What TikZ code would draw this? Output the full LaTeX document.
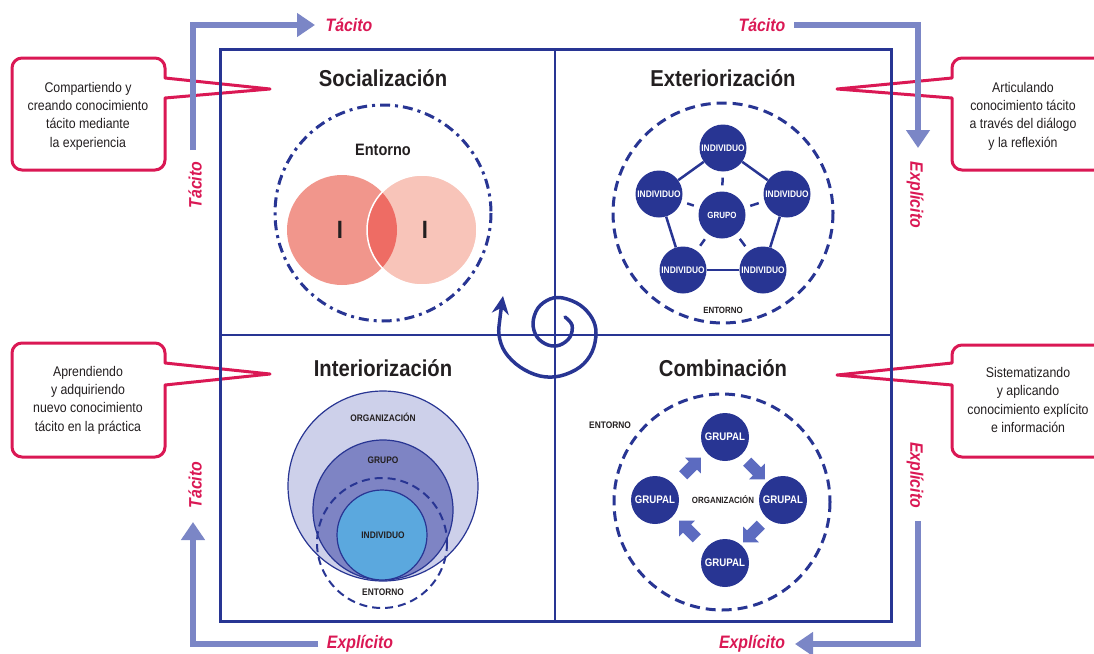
\documentclass[tikz,border=0pt]{standalone}
\usepackage{fontspec}
\setmainfont{Liberation Sans}[FakeStretch=0.88]
\usetikzlibrary{arrows.meta,shapes.arrows,calc}
\definecolor{dblue}{RGB}{40,53,147}
\definecolor{lblue}{RGB}{123,134,198}
\definecolor{cred}{RGB}{218,24,84}
\definecolor{sleft}{RGB}{241,150,140}
\definecolor{sright}{RGB}{248,196,185}
\definecolor{sover}{RGB}{238,108,100}
\definecolor{iorg}{RGB}{205,208,234}
\definecolor{igrp}{RGB}{126,132,196}
\definecolor{iind}{RGB}{91,168,222}
\definecolor{barrow}{RGB}{92,107,192}
\definecolor{ink}{RGB}{35,31,32}
\begin{document}
\begin{tikzpicture}[x=1pt,y=-1pt,
  callout/.style={draw=cred, line width=3pt, fill=white, line join=round},
  ctext/.style={align=center, text=ink, font=\fontsize{14}{18.3}\selectfont},
  flow/.style={draw=lblue, line width=6.5pt, -{Triangle[length=18pt,width=23pt]}},
  lab/.style={text=cred, font=\fontsize{18}{20}\selectfont\bfseries\itshape, inner sep=0pt},
  ttl/.style={text=ink, font=\fontsize{23}{26}\selectfont\bfseries},
  small/.style={text=ink, font=\fontsize{9.5}{11}\selectfont\bfseries, inner sep=0pt},
  ind/.style={circle, fill=dblue, minimum size=47pt, inner sep=0pt, text=white, font=\fontsize{9.5}{10}\selectfont\bfseries},
  grp/.style={circle, fill=dblue, minimum size=48pt, inner sep=0pt, text=white, font=\fontsize{11}{12}\selectfont\bfseries},
  barr/.style={single arrow, fill=barrow, draw=none, minimum height=25pt, inner sep=5.5pt, single arrow head extend=5.5pt, single arrow head indent=0pt},
  frame/.style={draw=dblue, line width=3pt},
  envdash/.style={draw=dblue, line width=3pt, dash pattern=on 10pt off 6pt}
]
\path[use as bounding box, clip] (0,0) rectangle (1094,653);

% ---------- callouts ----------
\draw[callout] (22,58) -- (155,58) .. controls (160.5,58) and (165,62.5) .. (165,68) -- (165,78) -- (270,89) -- (165,98) -- (165,160) .. controls (165,165.5) and (160.5,170) .. (155,170) -- (22,170) .. controls (16.5,170) and (12,165.5) .. (12,160) -- (12,68) .. controls (12,62.5) and (16.5,58) .. (22,58) -- cycle;
\draw[callout] (22,343) -- (155,343) .. controls (160.5,343) and (165,347.5) .. (165,353) -- (165,363) -- (270,374) -- (165,385) -- (165,447) .. controls (165,452.5) and (160.5,457) .. (155,457) -- (22,457) .. controls (16.5,457) and (12,452.5) .. (12,447) -- (12,353) .. controls (12,347.5) and (16.5,343) .. (22,343) -- cycle;
\draw[callout] (962,58) -- (1110,58) -- (1110,170) -- (962,170) .. controls (956.5,170) and (952,165.5) .. (952,160) -- (952,98) -- (837,89) -- (952,78) -- (952,68) .. controls (952,62.5) and (956.5,58) .. (962,58) -- cycle;
\draw[callout] (962,345) -- (1110,345) -- (1110,457) -- (962,457) .. controls (956.5,457) and (952,452.5) .. (952,447) -- (952,385) -- (837,375) -- (952,363) -- (952,355) .. controls (952,349.5) and (956.5,345) .. (962,345) -- cycle;

\node[ctext] (c1) at (88,116) {Compartiendo y\\creando conocimiento\\tácito mediante\\la experiencia};
\node[ctext] (c2) at (1023,116) {Articulando\\conocimiento tácito\\a través del diálogo\\y la reflexión};
\node[ctext] (c3) at (88,400) {Aprendiendo\\y adquiriendo\\nuevo conocimiento\\tácito en la práctica};
\node[ctext] (c4) at (1028,400) {Sistematizando\\y aplicando\\conocimiento explícito\\e información};

% ---------- flow arrows ----------
\coordinate (f1a) at (193,150); \coordinate (f1b) at (193,25); \coordinate (f1c) at (315,25);
\coordinate (f2a) at (794,25); \coordinate (f2b) at (918,25); \coordinate (f2c) at (918,148);
\coordinate (f3a) at (918,521); \coordinate (f3b) at (918,644); \coordinate (f3c) at (795,644);
\coordinate (f4a) at (318,644); \coordinate (f4b) at (193,644); \coordinate (f4c) at (193,522);
\draw[flow] (f1a) -- (f1b) -- (f1c);
\draw[flow] (f2a) -- (f2b) -- (f2c);
\draw[flow] (f3a) -- (f3b) -- (f3c);
\draw[flow] (f4a) -- (f4b) -- (f4c);

\node[lab, anchor=base] (t1) at (349,31.5) {Tácito};
\node[lab, anchor=base] (t2) at (762,31.5) {Tácito};
\node[lab, rotate=90] (t3) at (195,185) {Tácito};
\node[lab, rotate=90] (t4) at (195,485) {Tácito};
\node[lab, rotate=-90] (e1) at (915,195) {Explícito};
\node[lab, rotate=-90] (e2) at (915,475) {Explícito};
\node[lab, anchor=base] (e3) at (360,648.5) {Explícito};
\node[lab, anchor=base] (e4) at (752,648.5) {Explícito};

% ---------- frame ----------
\draw[frame] (220,49) rectangle (891,621);
\draw[draw=dblue, line width=2.5pt] (555,49) -- (555,621);
\draw[draw=dblue, line width=2.5pt] (220,335) -- (891,335);

% ---------- titles ----------
\node[ttl] (q1) at (383,78) {Socialización};
\node[ttl] (q2) at (723,78) {Exteriorización};
\node[ttl] (q3) at (383,368) {Interiorización};
\node[ttl] (q4) at (723,368) {Combinación};

% ---------- socialization ----------
\fill[sleft] (342,230) circle[radius=55];
\fill[sright] (422,230) circle[radius=55];
\begin{scope}
  \clip (342,230) circle[radius=55];
  \fill[sover] (422,230) circle[radius=55];
\end{scope}
\draw[white, line width=1.5pt] (422,230) circle[radius=55];
\draw[dblue, line width=3pt, dash pattern=on 10pt off 5pt on 3pt off 5pt] (383,213) circle[radius=108];
\node[text=ink, font=\fontsize{16.5}{18}\selectfont\bfseries] (ent1) at (383,150) {Entorno};
\node[text=ink, font=\fontsize{25}{27}\selectfont\bfseries] (iA) at (340,230) {I};
\node[text=ink, font=\fontsize{25}{27}\selectfont\bfseries] (iB) at (425,230) {I};

% ---------- exteriorization ----------
\draw[envdash] (723,213) circle[radius=110];
\node[ind] (i1) at (723,148) {INDIVIDUO};
\node[ind] (i2) at (787,194) {INDIVIDUO};
\node[ind] (i3) at (763,270) {INDIVIDUO};
\node[ind] (i4) at (683,270) {INDIVIDUO};
\node[ind] (i5) at (659,194) {INDIVIDUO};
\node[ind, font=\fontsize{9}{10}\selectfont\bfseries] (g0) at (722,215) {GRUPO};
\draw[dblue, line width=2.5pt] (i1) -- (i2);
\draw[dblue, line width=2.5pt] (i2) -- (i3);
\draw[dblue, line width=2.5pt] (i3) -- (i4);
\draw[dblue, line width=2.5pt] (i4) -- (i5);
\draw[dblue, line width=2.5pt] (i5) -- (i1);
\foreach \n in {i1,i2,i3,i4,i5}{
  \draw[dblue, line width=2.5pt, shorten <=6pt, shorten >=6pt] (g0) -- (\n);
}
\node[small, font=\fontsize{9}{10}\selectfont\bfseries] (ent2) at (723,310) {ENTORNO};

% ---------- interiorization ----------
\draw[dblue, line width=1.2pt, fill=iorg] (383,486) circle[radius=95];
\draw[dblue, line width=1.2pt, fill=igrp] (383,510) circle[radius=70];
\draw[dblue, line width=2pt, dash pattern=on 8pt off 5pt] (382,543) circle[radius=65];
\draw[dblue, line width=1.2pt, fill=iind] (382,535) circle[radius=45];
\node[small] (o3) at (383,417) {ORGANIZACIÓN};
\node[small] (g3) at (383,460) {GRUPO};
\node[small] (d3) at (383,535) {INDIVIDUO};
\node[small] (ent3) at (383,592) {ENTORNO};

% ---------- combination ----------
\draw[envdash] (722,502) circle[radius=108];
\node[grp] (gt) at (725,437) {GRUPAL};
\node[grp] (gr) at (783,500) {GRUPAL};
\node[grp] (gb) at (725,563) {GRUPAL};
\node[grp] (gl) at (655,500) {GRUPAL};
\node[small, font=\fontsize{9}{10}\selectfont\bfseries] (o4) at (723,500) {ORGANIZACIÓN};
\node[small] (ent4) at (610,425) {ENTORNO};
\node[barr, rotate=-45] (a1) at ($(gt)!0.5!(gr)$) {};
\node[barr, rotate=-135] (a2) at ($(gr)!0.5!(gb)$) {};
\node[barr, rotate=135] (a3) at ($(gb)!0.5!(gl)$) {};
\node[barr, rotate=45] (a4) at ($(gl)!0.5!(gt)$) {};

% ---------- spiral ----------
\draw[dblue, line width=3.5pt, line cap=round, -{Stealth[length=18pt,width=17pt]}]
  plot[smooth, tension=0.6] coordinates {(565,317) (572,325) (570,337) (560,345) (548,345) (537,337) (533,323) (538,308) (550,299) (563,298) (580,305) (592,318) (596,333) (592,352) (580,367) (560,376) (540,376) (520,367) (505,352) (499,335) (500,318) (503,296)};
\end{tikzpicture}
\end{document}
